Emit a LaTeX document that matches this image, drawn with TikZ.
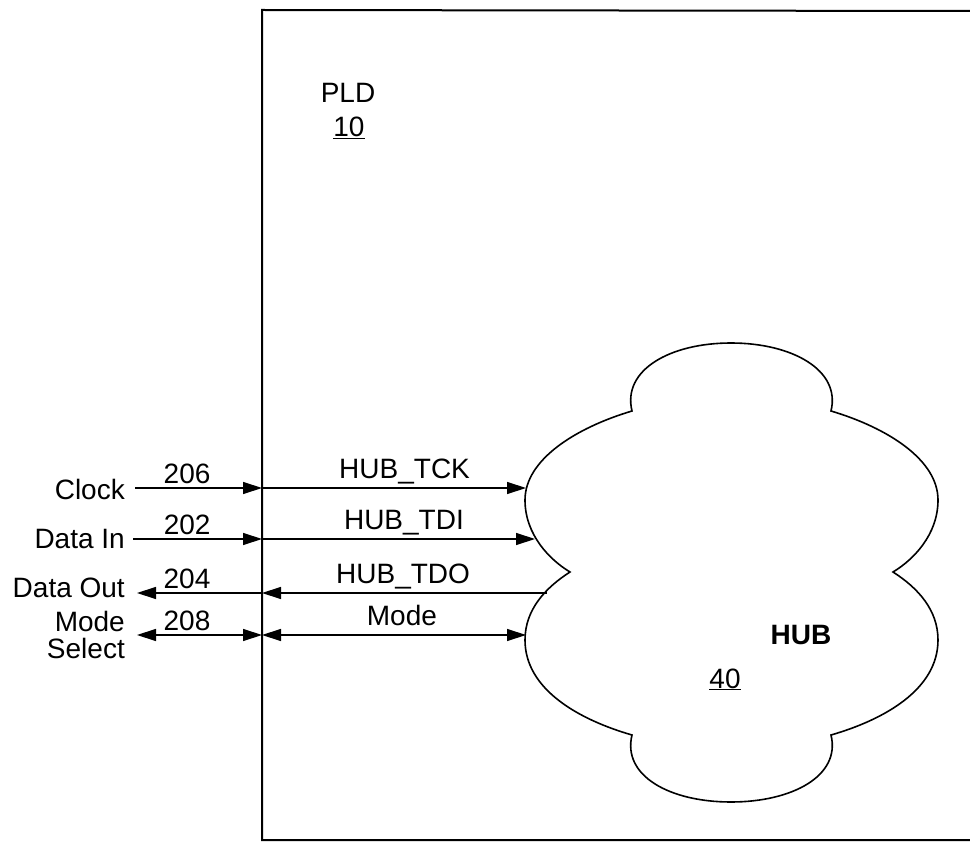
\documentclass[tikz,border=0pt]{standalone}
\usepackage{fontspec}
\setmainfont{Liberation Sans}
\usetikzlibrary{arrows.meta}

\begin{document}
\begin{tikzpicture}[
    x=1pt, y=-1pt, >={Triangle[length=19pt,width=12pt]},
    every node/.style={font=\fontsize{28}{30}\selectfont, inner sep=0pt},
    sig/.style={line width=1.3pt},
    numlabel/.style={anchor=base, yshift=5pt},
    hublabel/.style={anchor=base, yshift=9.5pt}
]
\useasboundingbox (0,0) rectangle (970,842);

% PLD outline (open on the right)
\draw[line width=2pt] (970,11) -- (262,10) -- (262,840) -- (970,840);
\node[anchor=base] (pld_name) at (348,103) {PLD};
\node[anchor=base] (pld_ref) at (349,137) {\underline{10}};

% hub cloud
\draw[line width=1.6pt] (632,411) .. controls (622,370) and (670,343) .. (731,343)
    .. controls (792,343) and (841,370) .. (831,411)
    .. controls (888,428) and (938,460) .. (938,500)
    .. controls (938,535) and (913,560) .. (893,572)
    .. controls (918,588) and (938,610) .. (938,640)
    .. controls (938,690) and (883,720) .. (831,735)
    .. controls (841,776) and (792,802) .. (731,802)
    .. controls (670,802) and (622,776) .. (632,735)
    .. controls (580,720) and (525,690) .. (525,640)
    .. controls (525,610) and (545,588) .. (570,572)
    .. controls (550,560) and (525,535) .. (525,500)
    .. controls (525,460) and (575,428) .. cycle;
\node[font=\bfseries\fontsize{28}{30}\selectfont] (hub_name) at (801,635) {HUB};
\node[anchor=base] (hub_ref) at (725,688) {\underline{40}};

% outside signals
\node[anchor=east] (clock) at (125,489) {Clock};
\node[anchor=east] (data_in) at (125,539) {Data In};
\node[anchor=east] (data_out) at (125,588) {Data Out};
\node[anchor=east, align=right, font=\fontsize{28}{27}\selectfont] (mode_select) at (125,635) {Mode\\Select};

\coordinate (ext_clk) at (135,488);
\coordinate (ext_din) at (133,539);
\coordinate (ext_dout) at (137,593);
\coordinate (ext_mode) at (137,635);

\coordinate (pld_clk) at (262,488);
\coordinate (pld_din) at (262,539);
\coordinate (pld_dout) at (262,593);
\coordinate (pld_mode) at (262,635);

\coordinate (hub_tck) at (526,488);
\coordinate (hub_tdi) at (535,539);
\coordinate (hub_tdo) at (547,593);
\coordinate (hub_mode) at (526,635);

\draw[sig, ->] (ext_clk) -- node[numlabel, pos=0.41] {206} (pld_clk);
\draw[sig, ->] (ext_din) -- node[numlabel, pos=0.42] {202} (pld_din);
\draw[sig, ->] (pld_dout) -- node[numlabel, pos=0.6] {204} (ext_dout);
\draw[sig, <->] (ext_mode) -- node[numlabel, pos=0.4] {208} (pld_mode);

\draw[sig, ->] (pld_clk) -- node[hublabel, pos=0.54] {HUB\_TCK} (hub_tck);
\draw[sig, ->] (pld_din) -- node[hublabel, pos=0.52] {HUB\_TDI} (hub_tdi);
\draw[sig, ->] (hub_tdo) -- node[hublabel, pos=0.505] {HUB\_TDO} (pld_dout);
\draw[sig, <->] (pld_mode) -- node[hublabel, pos=0.53] {Mode} (hub_mode);
\end{tikzpicture}
\end{document}
